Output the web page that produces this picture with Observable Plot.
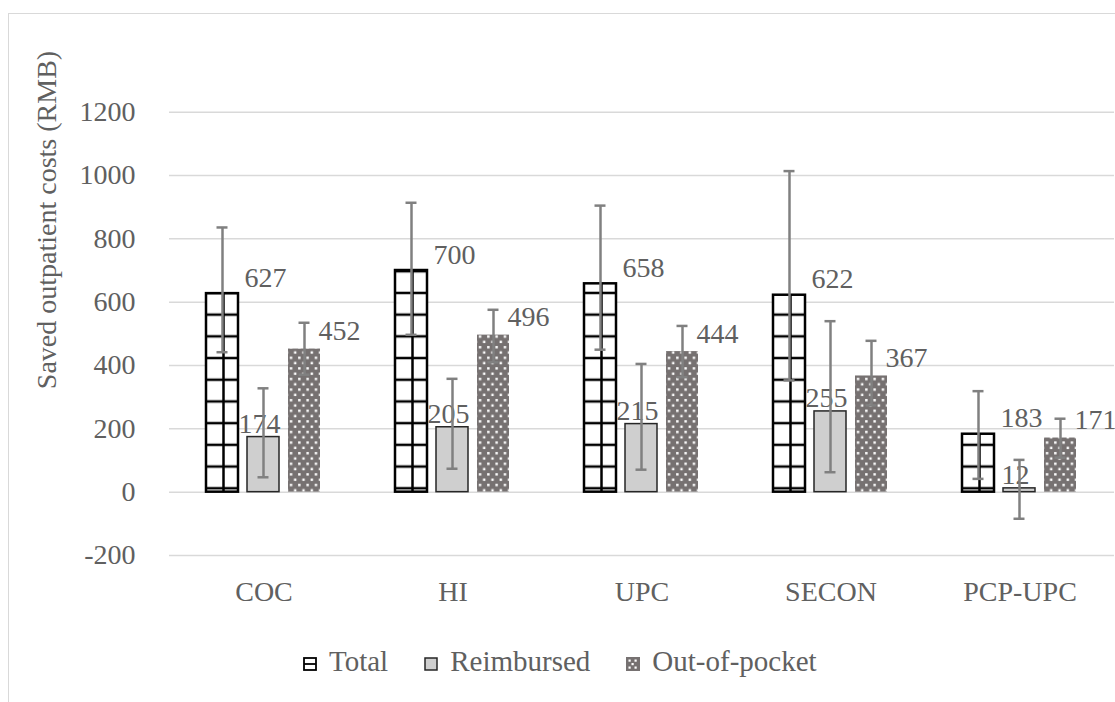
<!DOCTYPE html>
<html><head><meta charset="utf-8">
<script src="https://cdn.jsdelivr.net/npm/d3@7"></script>
<script src="https://cdn.jsdelivr.net/npm/@observablehq/plot@0.6"></script>
<style>
html,body{margin:0;padding:0;background:#fff;width:1115px;height:702px;overflow:hidden;font-family:"Liberation Serif","Times New Roman",serif;color:#606060}
#frame{position:absolute;left:8px;top:13px;width:1200px;height:800px;border-left:1.5px solid #d9d9d9;border-top:1.5px solid #d9d9d9;box-sizing:border-box}
#chart{position:absolute;left:0;top:0}
#ytitle{position:absolute;left:47px;top:220px;transform:translate(-50%,-50%) rotate(-90deg);white-space:nowrap;font-size:28px;line-height:28px}
#legend{position:absolute;left:303px;top:647px;display:flex;align-items:flex-start;font-size:29px;line-height:29px}
.item{display:flex;align-items:flex-start;margin-right:36px}
.item svg{margin-top:10px;margin-right:12px}
</style></head><body>
<div id="frame"></div>
<div id="chart"></div>
<div id="ytitle">Saved outpatient costs (RMB)</div>
<div id="legend"></div>
<script>
const categories = ["COC", "HI", "UPC", "SECON", "PCP-UPC"];
const seriesNames = ["Total", "Reimbursed", "Out-of-pocket"];
const totalValues = [627, 700, 658, 622, 183];
const reimbursedValues = [174, 205, 215, 255, 12];
const outOfPocketValues = [452, 496, 444, 367, 171];
const totalLow = [442, 497, 450, 353, 42];
const totalHigh = [836, 914, 905, 1014, 319];
const reimbursedLow = [47, 74, 71, 63, -84];
const reimbursedHigh = [328, 358, 405, 540, 102];
const outOfPocketLow = [371, 410, 363, 274, 109];
const outOfPocketHigh = [535, 576, 525, 478, 232];
const yTicks = [-200, 0, 200, 400, 600, 800, 1000, 1200];

const seriesData = {
  "Total": [totalValues, totalLow, totalHigh],
  "Reimbursed": [reimbursedValues, reimbursedLow, reimbursedHigh],
  "Out-of-pocket": [outOfPocketValues, outOfPocketLow, outOfPocketHigh]
};
const rows = [];
categories.forEach((c, i) => {
  seriesNames.forEach(s => {
    const [v, lo, hi] = seriesData[s];
    rows.push({category: c, series: s, value: v[i], low: lo[i], high: hi[i]});
  });
});
const totalRows = rows.filter(d => d.series === "Total");
const reimbRows = rows.filter(d => d.series === "Reimbursed");
const oopRows = rows.filter(d => d.series === "Out-of-pocket");

const textColor = "#606060";
const errColor = "#808080";
const common = {fx: "category", x: "series"};

const plot = Plot.plot({
  width: 1115,
  height: 620,
  marginLeft: 167,
  marginRight: 0,
  marginTop: 111.7,
  marginBottom: 65,
  style: {fontFamily: "'Liberation Serif', 'Times New Roman', serif", fontSize: "28px", color: textColor, background: "transparent", overflow: "visible"},
  fx: {domain: categories, paddingInner: 0, paddingOuter: 0, axis: "bottom", tickSize: 0, tickPadding: 26, label: null},
  x: {domain: seriesNames, paddingInner: 9 / 42, paddingOuter: 0.864, axis: null},
  y: {domain: [-200, 1200], ticks: yTicks, tickSize: 0, tickPadding: 34, tickFormat: d => String(d), label: null},
  marks: [
    Plot.ruleY(yTicks, {stroke: "#d9d9d9", strokeWidth: 1.5}),
    Plot.barY(totalRows, {...common, y1: 0, y2: "value", fill: "url(#totalPattern)", stroke: "#000", strokeWidth: 2.5}),
    Plot.ruleX(totalRows, {...common, y1: 0, y2: "value", stroke: "#000", strokeWidth: 2.5, dx: 1}),
    Plot.barY(reimbRows, {...common, y1: 0, y2: "value", fill: "#cfcfcf", stroke: "#262626", strokeWidth: 1.5}),
    Plot.barY(oopRows, {...common, y1: 0, y2: "value", fill: "url(#oopPattern)"}),
    Plot.text(totalRows, {...common, y: "value", text: d => String(d.value), textAnchor: "start", lineAnchor: "bottom", dx: 22, dy: -7, fill: textColor}),
    Plot.text(reimbRows, {...common, y: "value", text: d => String(d.value), textAnchor: "middle", lineAnchor: "bottom", dx: -4, dy: -4, fill: textColor}),
    Plot.text(oopRows, {...common, y: "value", text: d => String(d.value), textAnchor: "start", lineAnchor: "bottom", dx: 14, dy: -9, fill: textColor}),
    Plot.ruleX(rows, {...common, y1: "low", y2: "high", stroke: errColor, strokeWidth: 2.5}),
    Plot.tickY(rows, {...common, y: "low", stroke: errColor, strokeWidth: 2.5, insetLeft: 10.5, insetRight: 10.5}),
    Plot.tickY(rows, {...common, y: "high", stroke: errColor, strokeWidth: 2.5, insetLeft: 10.5, insetRight: 10.5})
  ]
});

const svg = plot.tagName.toLowerCase() === "svg" ? plot : plot.querySelector("svg");
const defs = d3.select(svg).insert("defs", ":first-child");
const tp = defs.append("pattern").attr("id", "totalPattern").attr("patternUnits", "userSpaceOnUse")
  .attr("width", 10).attr("height", 21.7);
tp.append("rect").attr("width", 10).attr("height", 21.7).attr("fill", "#fff");
tp.append("line").attr("x1", 0).attr("x2", 10).attr("y1", 10.85).attr("y2", 10.85).attr("stroke", "#000").attr("stroke-width", 2.5);
const op = defs.append("pattern").attr("id", "oopPattern").attr("patternUnits", "userSpaceOnUse")
  .attr("width", 8.3).attr("height", 10.6);
op.append("rect").attr("width", 8.3).attr("height", 10.6).attr("fill", "#767171");
op.append("rect").attr("x", 1.5).attr("y", 1.5).attr("width", 2.4).attr("height", 2.4).attr("fill", "#fff");
op.append("rect").attr("x", 5.65).attr("y", 6.8).attr("width", 2.4).attr("height", 2.4).attr("fill", "#fff");

document.getElementById("chart").appendChild(plot);

// legend
const legend = d3.select("#legend");
const swatches = {
  "Total": g => {
    g.append("rect").attr("x", 1).attr("y", 1).attr("width", 12).attr("height", 12).attr("fill", "#fff").attr("stroke", "#000").attr("stroke-width", 1.8);
    g.append("line").attr("x1", 1).attr("x2", 13).attr("y1", 7).attr("y2", 7).attr("stroke", "#000").attr("stroke-width", 1.8);
  },
  "Reimbursed": g => {
    g.append("rect").attr("x", 1).attr("y", 1).attr("width", 12).attr("height", 12).attr("fill", "#cfcfcf").attr("stroke", "#262626").attr("stroke-width", 1.5);
  },
  "Out-of-pocket": g => {
    g.append("rect").attr("x", 0).attr("y", 0).attr("width", 14).attr("height", 14).attr("fill", "#767171");
    [[2.5,2.5],[8.5,2.5],[5.5,6],[2.5,9.5],[8.5,9.5]].forEach(([x,y]) =>
      g.append("rect").attr("x", x).attr("y", y).attr("width", 2.2).attr("height", 2.2).attr("fill", "#fff"));
  }
};
seriesNames.forEach(s => {
  const item = legend.append("div").attr("class", "item");
  const sv = item.append("svg").attr("width", 14).attr("height", 14);
  swatches[s](sv);
  item.append("span").text(s);
});
</script>
</body></html>
